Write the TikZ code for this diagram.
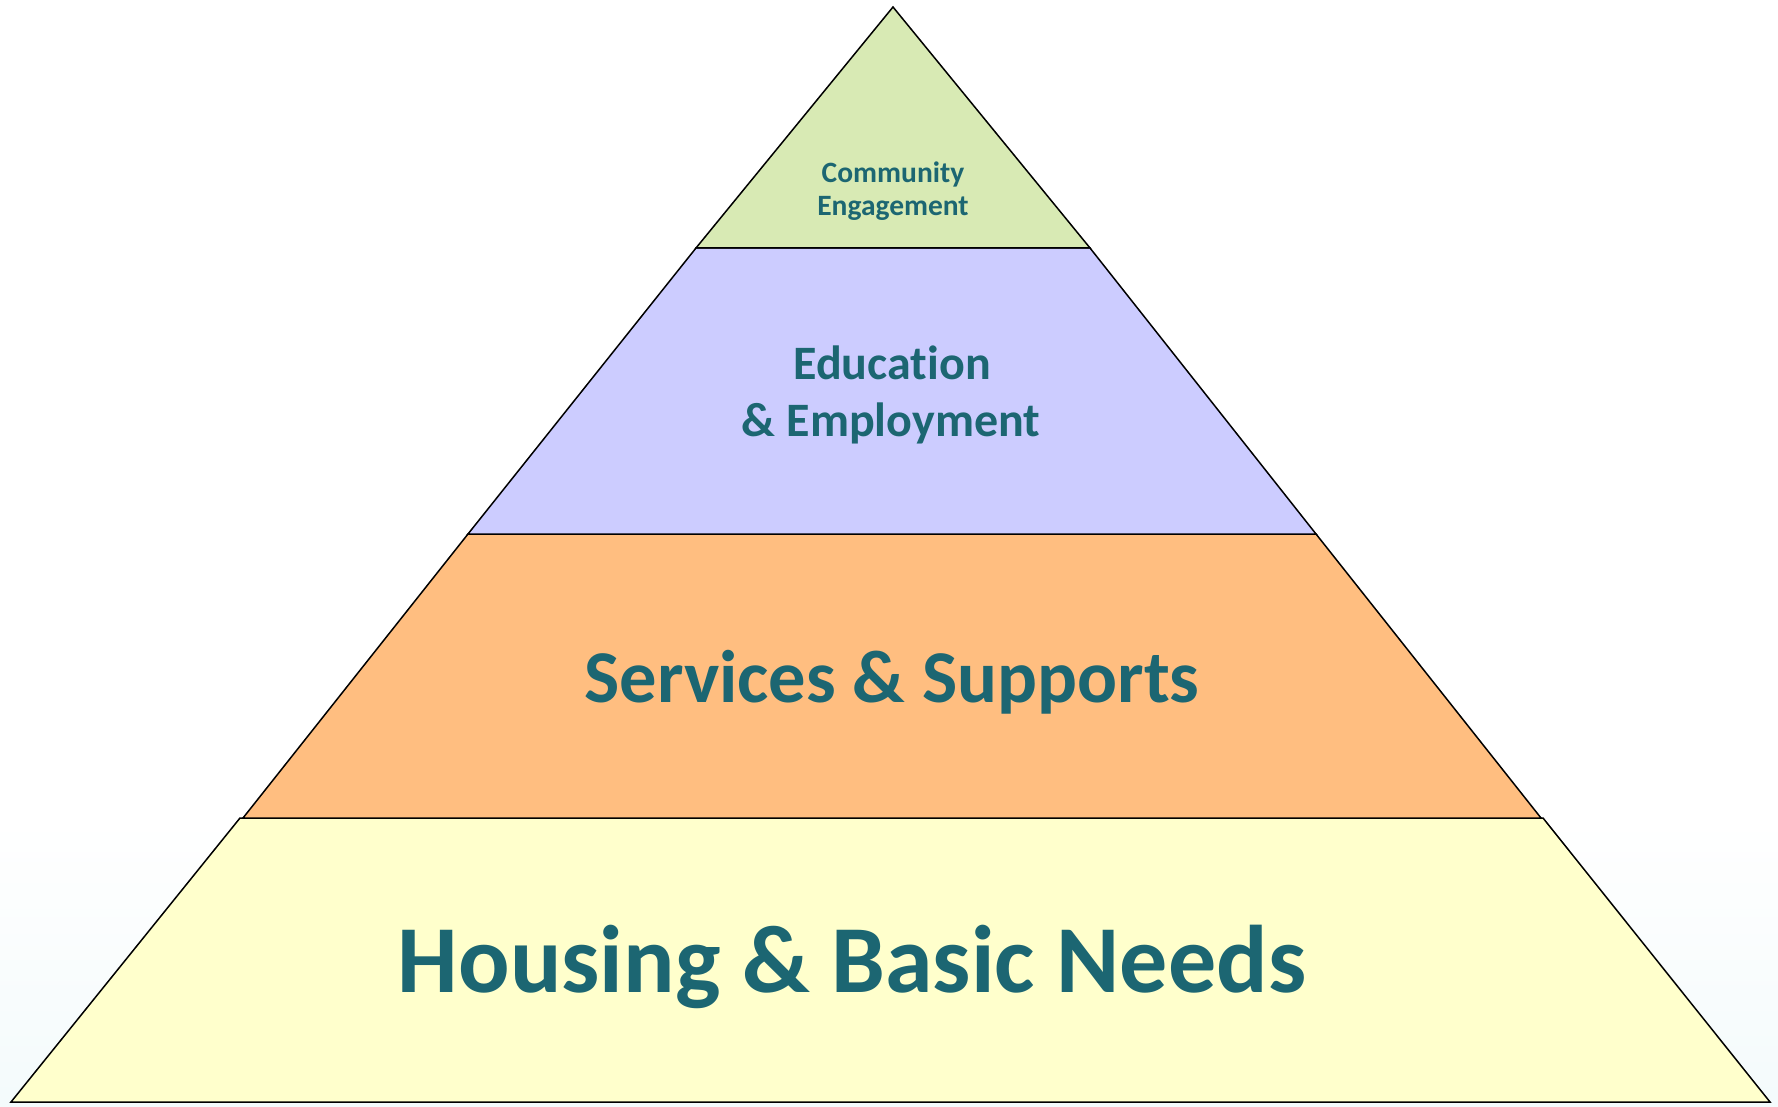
\documentclass[tikz,border=0pt]{standalone}
\usepackage{fontspec}
\setmainfont{Carlito}[Ligatures=NoCommon]
\definecolor{txt}{RGB}{28,102,114}
\definecolor{cgreen}{RGB}{216,234,180}
\definecolor{cpurple}{RGB}{204,204,255}
\definecolor{corange}{RGB}{255,190,128}
\definecolor{cyellow}{RGB}{255,255,204}
\definecolor{bgtop}{RGB}{233,241,242}
\definecolor{bgbot}{RGB}{222,242,245}
\pgfdeclareverticalshading{bgshade}{100bp}{color(0bp)=(bgbot); color(38bp)=(white); color(89bp)=(white); color(100bp)=(bgtop)}
\tikzset{
  tier/.style={draw=black, line width=1.5pt, line join=miter},
  lbl/.style={text=txt, font=\bfseries, inner sep=0pt, anchor=base},
}
\begin{document}
\begin{tikzpicture}[x=1pt,y=-1pt]
\useasboundingbox (0,0) rectangle (1778,1107);
\shade[shading=bgshade] (0,0) rectangle (1778,1107);
% tiers
\draw[tier, fill=cyellow] (240,818) -- (1543,818) -- (1770,1102) -- (11,1102) -- cycle;
\draw[tier, fill=corange] (468,534) -- (1316,534) -- (1541,818) -- (243,818) -- cycle;
\draw[tier, fill=cpurple] (696,248) -- (1090,248) -- (1316,534) -- (468,534) -- cycle;
\draw[tier, fill=cgreen] (893,7) -- (1090,248) -- (696,248) -- cycle;
% labels
\node[lbl, font=\bfseries\fontsize{29.5}{34}\selectfont] (ce1) at (893,183) {Community};
\node[lbl, font=\bfseries\fontsize{29.5}{34}\selectfont] (ce2) at (893,216) {Engagement};
\node[lbl, font=\bfseries\fontsize{48}{58}\selectfont] (ee1) at (892,379) {Education};
\node[lbl, font=\bfseries\fontsize{48}{58}\selectfont] (ee2) at (891,436) {\& Employment};
\node[lbl, font=\bfseries\fontsize{74.5}{90}\selectfont] (ss) at (892,702) {Services \& Supports};
\node[lbl, font=\bfseries\fontsize{96}{116}\selectfont] (hb) at (852,992) {Housing \& Basic Needs};
\end{tikzpicture}
\end{document}
